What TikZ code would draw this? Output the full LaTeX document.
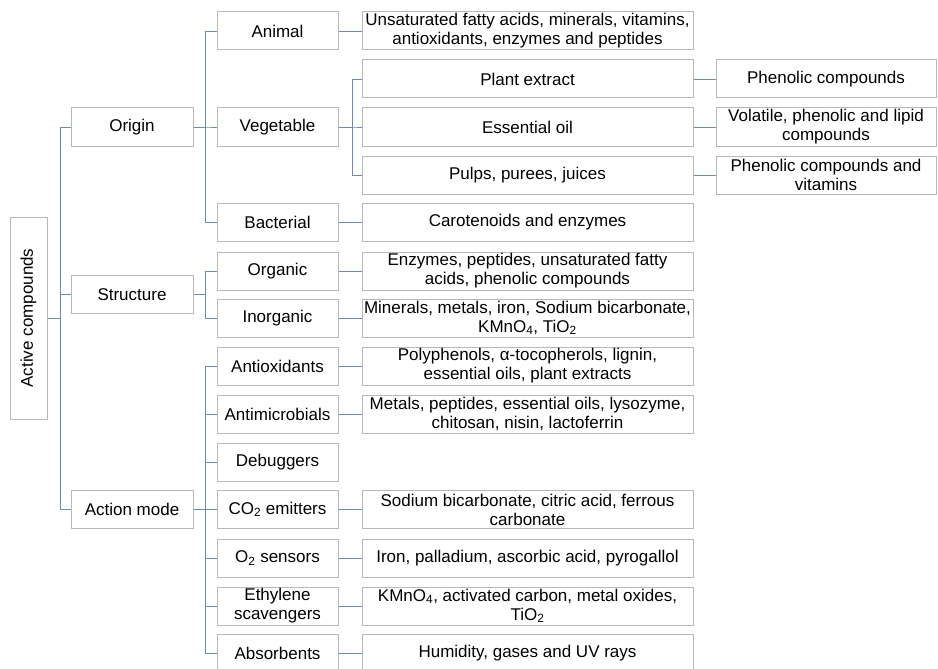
\documentclass[tikz,border=0pt]{standalone}
\usepackage{fontspec}
\setmainfont{Liberation Sans}
\usepackage{tikz}
\usetikzlibrary{positioning}
\usepackage{xcolor}
\definecolor{linkBlue}{HTML}{6A8AC0}
\definecolor{boxGray}{HTML}{B8B8B8}

\begin{document}
\begin{tikzpicture}[
    x=1pt, y=-1pt,
    catBox/.style={rectangle, draw=boxGray, fill=white, line width=1pt, font=\fontsize{17}{19}\selectfont, inner sep=1pt, minimum width=121pt, minimum height=38pt, align=center},
    itemBox/.style={catBox, minimum width=331pt},
    endBox/.style={catBox, minimum width=220pt},
    link/.style={draw=linkBlue, line width=0.9pt}
]
    \useasboundingbox (0,0) rectangle (938,669);

    % Root
    \node[catBox, minimum width=37pt, minimum height=202pt] (root) at (28.5,318) {\rotatebox{90}{Active compounds}};

    % Level 1
    \node[catBox, minimum width=122pt] (origin) at (132,127) {Origin};
    \node[catBox, minimum width=122pt] (structure) at (132,294.5) {Structure};
    \node[catBox, minimum width=122pt] (action) at (132,509.5) {Action mode};

    % Level 2: Origin
    \node[catBox] (animal) at (277.5,31) {Animal};
    \node[catBox] (vegetable) at (277.5,127) {Vegetable};
    \node[catBox] (bacterial) at (277.5,222.5) {Bacterial};
    % Level 2: Structure
    \node[catBox] (organic) at (277.5,271) {Organic};
    \node[catBox] (inorganic) at (277.5,318) {Inorganic};
    % Level 2: Action mode
    \node[catBox] (antiox) at (277.5,366) {Antioxidants};
    \node[catBox] (antimic) at (277.5,414) {Antimicrobials};
    \node[catBox] (debug) at (277.5,462) {Debuggers};
    \node[catBox] (cotwo) at (277.5,509.5) {CO\textsubscript{2} emitters};
    \node[catBox] (otwo) at (277.5,558) {O\textsubscript{2} sensors};
    \node[catBox] (ethyl) at (277.5,606) {Ethylene\\scavengers};
    \node[catBox] (absorb) at (277.5,653) {Absorbents};

    % Level 3
    \node[itemBox] (animalTxt) at (527.5,31) {Unsaturated fatty acids, minerals, vitamins,\\antioxidants, enzymes and peptides};
    \node[itemBox] (plant) at (527.5,79) {Plant extract};
    \node[itemBox] (essential) at (527.5,127) {Essential oil};
    \node[itemBox] (pulps) at (527.5,175) {Pulps, purees, juices};
    \node[itemBox] (bacterialTxt) at (527.5,222.5) {Carotenoids and enzymes};
    \node[itemBox] (organicTxt) at (527.5,271) {Enzymes, peptides, unsaturated fatty\\acids, phenolic compounds};
    \node[itemBox] (inorganicTxt) at (527.5,318) {Minerals, metals, iron, Sodium bicarbonate,\\KMnO\textsubscript{4}, TiO\textsubscript{2}};
    \node[itemBox] (antioxTxt) at (527.5,366) {Polyphenols, α-tocopherols, lignin,\\essential oils, plant extracts};
    \node[itemBox] (antimicTxt) at (527.5,414) {Metals, peptides, essential oils, lysozyme,\\chitosan, nisin, lactoferrin};
    \node[itemBox] (cotwoTxt) at (527.5,509.5) {Sodium bicarbonate, citric acid, ferrous\\carbonate};
    \node[itemBox] (otwoTxt) at (527.5,558) {Iron, palladium, ascorbic acid, pyrogallol};
    \node[itemBox] (ethylTxt) at (527.5,606) {KMnO\textsubscript{4}, activated carbon, metal oxides,\\TiO\textsubscript{2}};
    \node[itemBox] (absorbTxt) at (527.5,653) {Humidity, gases and UV rays};

    % Level 4
    \node[endBox] (plantTxt) at (826,79) {Phenolic compounds};
    \node[endBox] (essentialTxt) at (826,127) {Volatile, phenolic and lipid\\compounds};
    \node[endBox] (pulpsTxt) at (826,175) {Phenolic compounds and\\vitamins};

    % Tree connectors
    \foreach \k in {origin, structure, action}
        \draw[link] (root.east) -- ++(13,0) |- (\k.west);
    \foreach \k in {animal, vegetable, bacterial}
        \draw[link] (origin.east) -- ++(12,0) |- (\k.west);
    \foreach \k in {organic, inorganic}
        \draw[link] (structure.east) -- ++(12,0) |- (\k.west);
    \foreach \k in {antiox, antimic, debug, cotwo, otwo, ethyl, absorb}
        \draw[link] (action.east) -- ++(12,0) |- (\k.west);
    \foreach \k in {plant, essential, pulps}
        \draw[link] (vegetable.east) -- ++(14,0) |- (\k.west);

    % Straight links
    \foreach \k in {animal, bacterial, organic, inorganic, antiox, antimic, cotwo, otwo, ethyl, absorb, plant, essential, pulps}
        \draw[link] (\k.east) -- (\k Txt.west);
\end{tikzpicture}
\end{document}
